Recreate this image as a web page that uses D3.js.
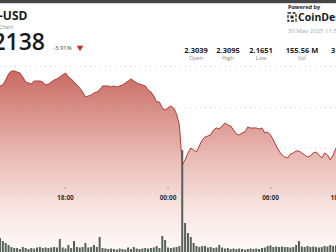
<!DOCTYPE html>
<html>
<head>
<meta charset="utf-8">
<script src="https://cdn.jsdelivr.net/npm/d3@7"></script>
<style>
  body { margin: 0; background: #fff; }
  svg { display: block; font-family: "Open Sans", sans-serif; }
</style>
</head>
<body>
<div id="chart"></div>
<script>
var width = 336;
var height = 252;

// 10-minute steps starting 29 May 2025 14:10
var start = new Date(2025, 4, 29, 14, 10);
var step = 10 * 60 * 1000;

var prices = [2.2865, 2.2880, 2.2957, 2.3049, 2.3095, 2.3095, 2.3080, 2.3064, 2.3003, 2.2926,
  2.2911, 2.2895, 2.2941, 2.2941, 2.2941, 2.2926, 2.2880, 2.2895, 2.2926, 2.2957,
  2.2972, 2.3003, 2.3034, 2.3064, 2.3003, 2.2972, 2.2926, 2.2880, 2.2834, 2.2772,
  2.2696, 2.2711, 2.2726, 2.2757, 2.2772, 2.2803, 2.2865, 2.2865, 2.2865, 2.2849,
  2.2865, 2.2849, 2.2865, 2.2880, 2.2911, 2.2941, 2.2972, 2.2941, 2.2911, 2.2895,
  2.2880, 2.2865, 2.2803, 2.2772, 2.2711, 2.2619, 2.2619, 2.2527, 2.2496, 2.2527,
  2.2557, 2.2527, 2.2435, 2.2266, 2.1651, 2.1728, 2.1836, 2.1912, 2.1882, 2.1851,
  2.1943, 2.2035, 2.2081, 2.2097, 2.2112, 2.2189, 2.2220, 2.2204, 2.2250, 2.2296,
  2.2266, 2.2250, 2.2189, 2.2127, 2.2112, 2.2143, 2.2158, 2.2235, 2.2220, 2.2220,
  2.2220, 2.2204, 2.2220, 2.2143, 2.2158, 2.2112, 2.2035, 2.1943, 2.1866, 2.1805,
  2.1774, 2.1759, 2.1820, 2.1836, 2.1866, 2.1866, 2.1836, 2.1805, 2.1774, 2.1789,
  2.1836, 2.1851, 2.1805, 2.1759, 2.1836, 2.1805, 2.1728, 2.1805, 2.1912];

// volume, millions
var volumes = [2.8, 2.2, 1.8, 1.4, 1.0, 0.8, 0.8, 0.6, 1.0, 0.8,
  0.6, 0.8, 0.7, 0.9, 1.0, 0.8, 0.9, 0.8, 0.9, 1.0,
  0.9, 2.6, 0.9, 0.7, 1.4, 0.8, 2.2, 1.0, 0.9, 1.0,
  1.8, 0.9, 1.0, 1.4, 1.0, 3.0, 0.8, 0.7, 0.6, 0.7,
  0.6, 0.5, 0.7, 0.6, 0.5, 0.9, 0.6, 1.0, 0.7, 0.6,
  0.7, 0.8, 0.7, 0.8, 0.9, 1.2, 0.8, 3.2, 2.4, 0.9,
  0.8, 0.9, 1.0, 1.2, 20.4, 5.8, 3.8, 3.0, 1.8, 1.2,
  1.0, 1.2, 1.2, 0.9, 1.0, 0.8, 0.9, 1.4, 0.9, 0.7,
  0.8, 0.6, 0.7, 0.6, 0.7, 0.6, 0.5, 0.6, 0.7, 0.6,
  0.7, 0.6, 0.8, 0.9, 1.2, 1.3, 1.0, 1.1, 1.0, 1.1,
  1.0, 1.0, 0.9, 1.0, 1.4, 2.2, 1.1, 1.0, 1.2, 1.0,
  1.1, 1.0, 0.9, 1.0, 1.2, 1.1, 1.4, 1.2, 1.3];

var gridValues = [2.3172, 2.2542, 2.1912, 2.1221];
var timeTicks = [new Date(2025, 4, 29, 18, 0), new Date(2025, 4, 30, 0, 0),
  new Date(2025, 4, 30, 6, 0), new Date(2025, 4, 30, 10, 0)];

var statValues = ["2.3039", "2.3095", "2.1651", "155.56 M", "3"];
var statLabels = ["Open", "High", "Low", "Vol", ""];
var statX = [196, 228, 261, 302, 331];

var data = prices.map((p, i) => ({date: new Date(start.getTime() + i * step), price: p, vol: volumes[i]}));

var x = d3.scaleTime()
  .domain([start, data[data.length - 1].date])
  .range([0, width]);

var y = d3.scaleLinear()
  .domain([2.1651, 2.3095])
  .range([165, 71]);

var yVol = d3.scaleLinear()
  .domain([0, 20])
  .range([252, 152]);

const svg = d3.select("#chart").append("svg")
  .attr("width", width)
  .attr("height", height)
  .attr("viewBox", [0, 0, width, height]);

// top strip
svg.append("rect").attr("x", 0).attr("y", 0).attr("width", width).attr("height", 3).attr("fill", "#454545");
svg.append("rect").attr("x", 0).attr("y", 3).attr("width", width).attr("height", 1).attr("fill", "#d8d8d8");

// header, left
svg.append("text").attr("x", -1).attr("y", 20)
  .attr("font-size", 12).attr("font-weight", 700).attr("fill", "#1a1a1a").text("-USD");
svg.append("text").attr("x", -1).attr("y", 28.5)
  .attr("font-size", 5.5).attr("fill", "#888").text("Chart");
svg.append("text").attr("x", 45).attr("y", 50).attr("text-anchor", "end")
  .attr("font-size", 23).attr("font-weight", 600).attr("fill", "#1a1a1a").text("2138");
svg.append("text").attr("x", 53).attr("y", 50)
  .attr("font-size", 6).attr("fill", "#444").text("-3.91%");
svg.append("path")
  .attr("d", d3.symbol(d3.symbolTriangle, 18)())
  .attr("transform", "translate(80,47.5) rotate(180)")
  .attr("fill", "#c8261e");

// header, right
svg.append("text").attr("x", 288).attr("y", 9)
  .attr("font-size", 5.5).attr("font-weight", 700).attr("fill", "#222").text("Powered by");
var logo = svg.append("g").attr("transform", "translate(288,13)");
logo.append("rect").attr("x", 0).attr("y", 0).attr("width", 8).attr("height", 8).attr("fill", "none")
  .attr("stroke", "#222").attr("stroke-width", 1.3).attr("stroke-dasharray", "3,1.5");
logo.append("rect").attr("x", 2.5).attr("y", 2.5).attr("width", 3).attr("height", 3).attr("fill", "#222");
svg.append("text").attr("x", 298).attr("y", 21)
  .attr("font-size", 10.5).attr("font-weight", 700).attr("fill", "#1a1a1a").text("CoinDesk");
svg.append("text").attr("x", 288).attr("y", 33)
  .attr("font-size", 6).attr("fill", "#aaa").text("30 May 2025 11:53");

statValues.forEach((v, i) => {
  svg.append("text").attr("x", statX[i]).attr("y", 53)
    .attr("text-anchor", i == 4 ? "start" : "middle")
    .attr("font-size", 7.5).attr("font-weight", 700).attr("fill", "#222").text(v);
  svg.append("text").attr("x", statX[i]).attr("y", 60)
    .attr("text-anchor", "middle")
    .attr("font-size", 5.5).attr("fill", "#888").text(statLabels[i]);
});

// gradient for area
var defs = svg.append("defs");
var grad = defs.append("linearGradient").attr("id", "fade")
  .attr("gradientUnits", "userSpaceOnUse")
  .attr("x1", 0).attr("x2", 0).attr("y1", 70).attr("y2", 252);
grad.append("stop").attr("offset", 0).attr("stop-color", "#c86a62");
grad.append("stop").attr("offset", 0.45).attr("stop-color", "#e8b6b0");
grad.append("stop").attr("offset", 0.75).attr("stop-color", "#f7e3e0");
grad.append("stop").attr("offset", 1).attr("stop-color", "#fefafa");

var area = d3.area()
  .x(d => x(d.date))
  .y0(height)
  .y1(d => y(d.price));

var line = d3.line()
  .x(d => x(d.date))
  .y(d => y(d.price));

svg.append("path")
  .datum(data)
  .attr("fill", "url(#fade)")
  .attr("d", area);

// dotted grid
svg.append("g")
  .selectAll("line")
  .data(gridValues)
  .join("line")
    .attr("x1", 0)
    .attr("x2", width)
    .attr("y1", d => Math.round(y(d)) + 0.5)
    .attr("y2", d => Math.round(y(d)) + 0.5)
    .attr("stroke", "#b8b8b8")
    .attr("stroke-opacity", 0.6)
    .attr("stroke-dasharray", "1,4");

svg.append("path")
  .datum(data)
  .attr("fill", "none")
  .attr("stroke", "#b23a30")
  .attr("stroke-width", 1)
  .attr("stroke-linejoin", "round")
  .attr("d", line);

// volume bars
svg.append("g")
  .attr("fill", "#56615a")
  .selectAll("rect")
  .data(data)
  .join("rect")
    .attr("x", d => x(d.date) - 1)
    .attr("y", d => yVol(d.vol))
    .attr("width", 2)
    .attr("height", d => yVol(0) - yVol(d.vol));

// time axis
var axis = svg.append("g");
axis.selectAll("circle")
  .data(timeTicks)
  .join("circle")
    .attr("cx", d => x(d))
    .attr("cy", 188)
    .attr("r", 0.6)
    .attr("fill", "#555");
axis.selectAll("text")
  .data(timeTicks)
  .join("text")
    .attr("x", d => x(d))
    .attr("y", 199.5)
    .attr("text-anchor", "middle")
    .attr("font-size", 6.5)
    .attr("font-weight", 700)
    .attr("fill", "#333")
    .text(d3.timeFormat("%H:%M"));
</script>
</body>
</html>
